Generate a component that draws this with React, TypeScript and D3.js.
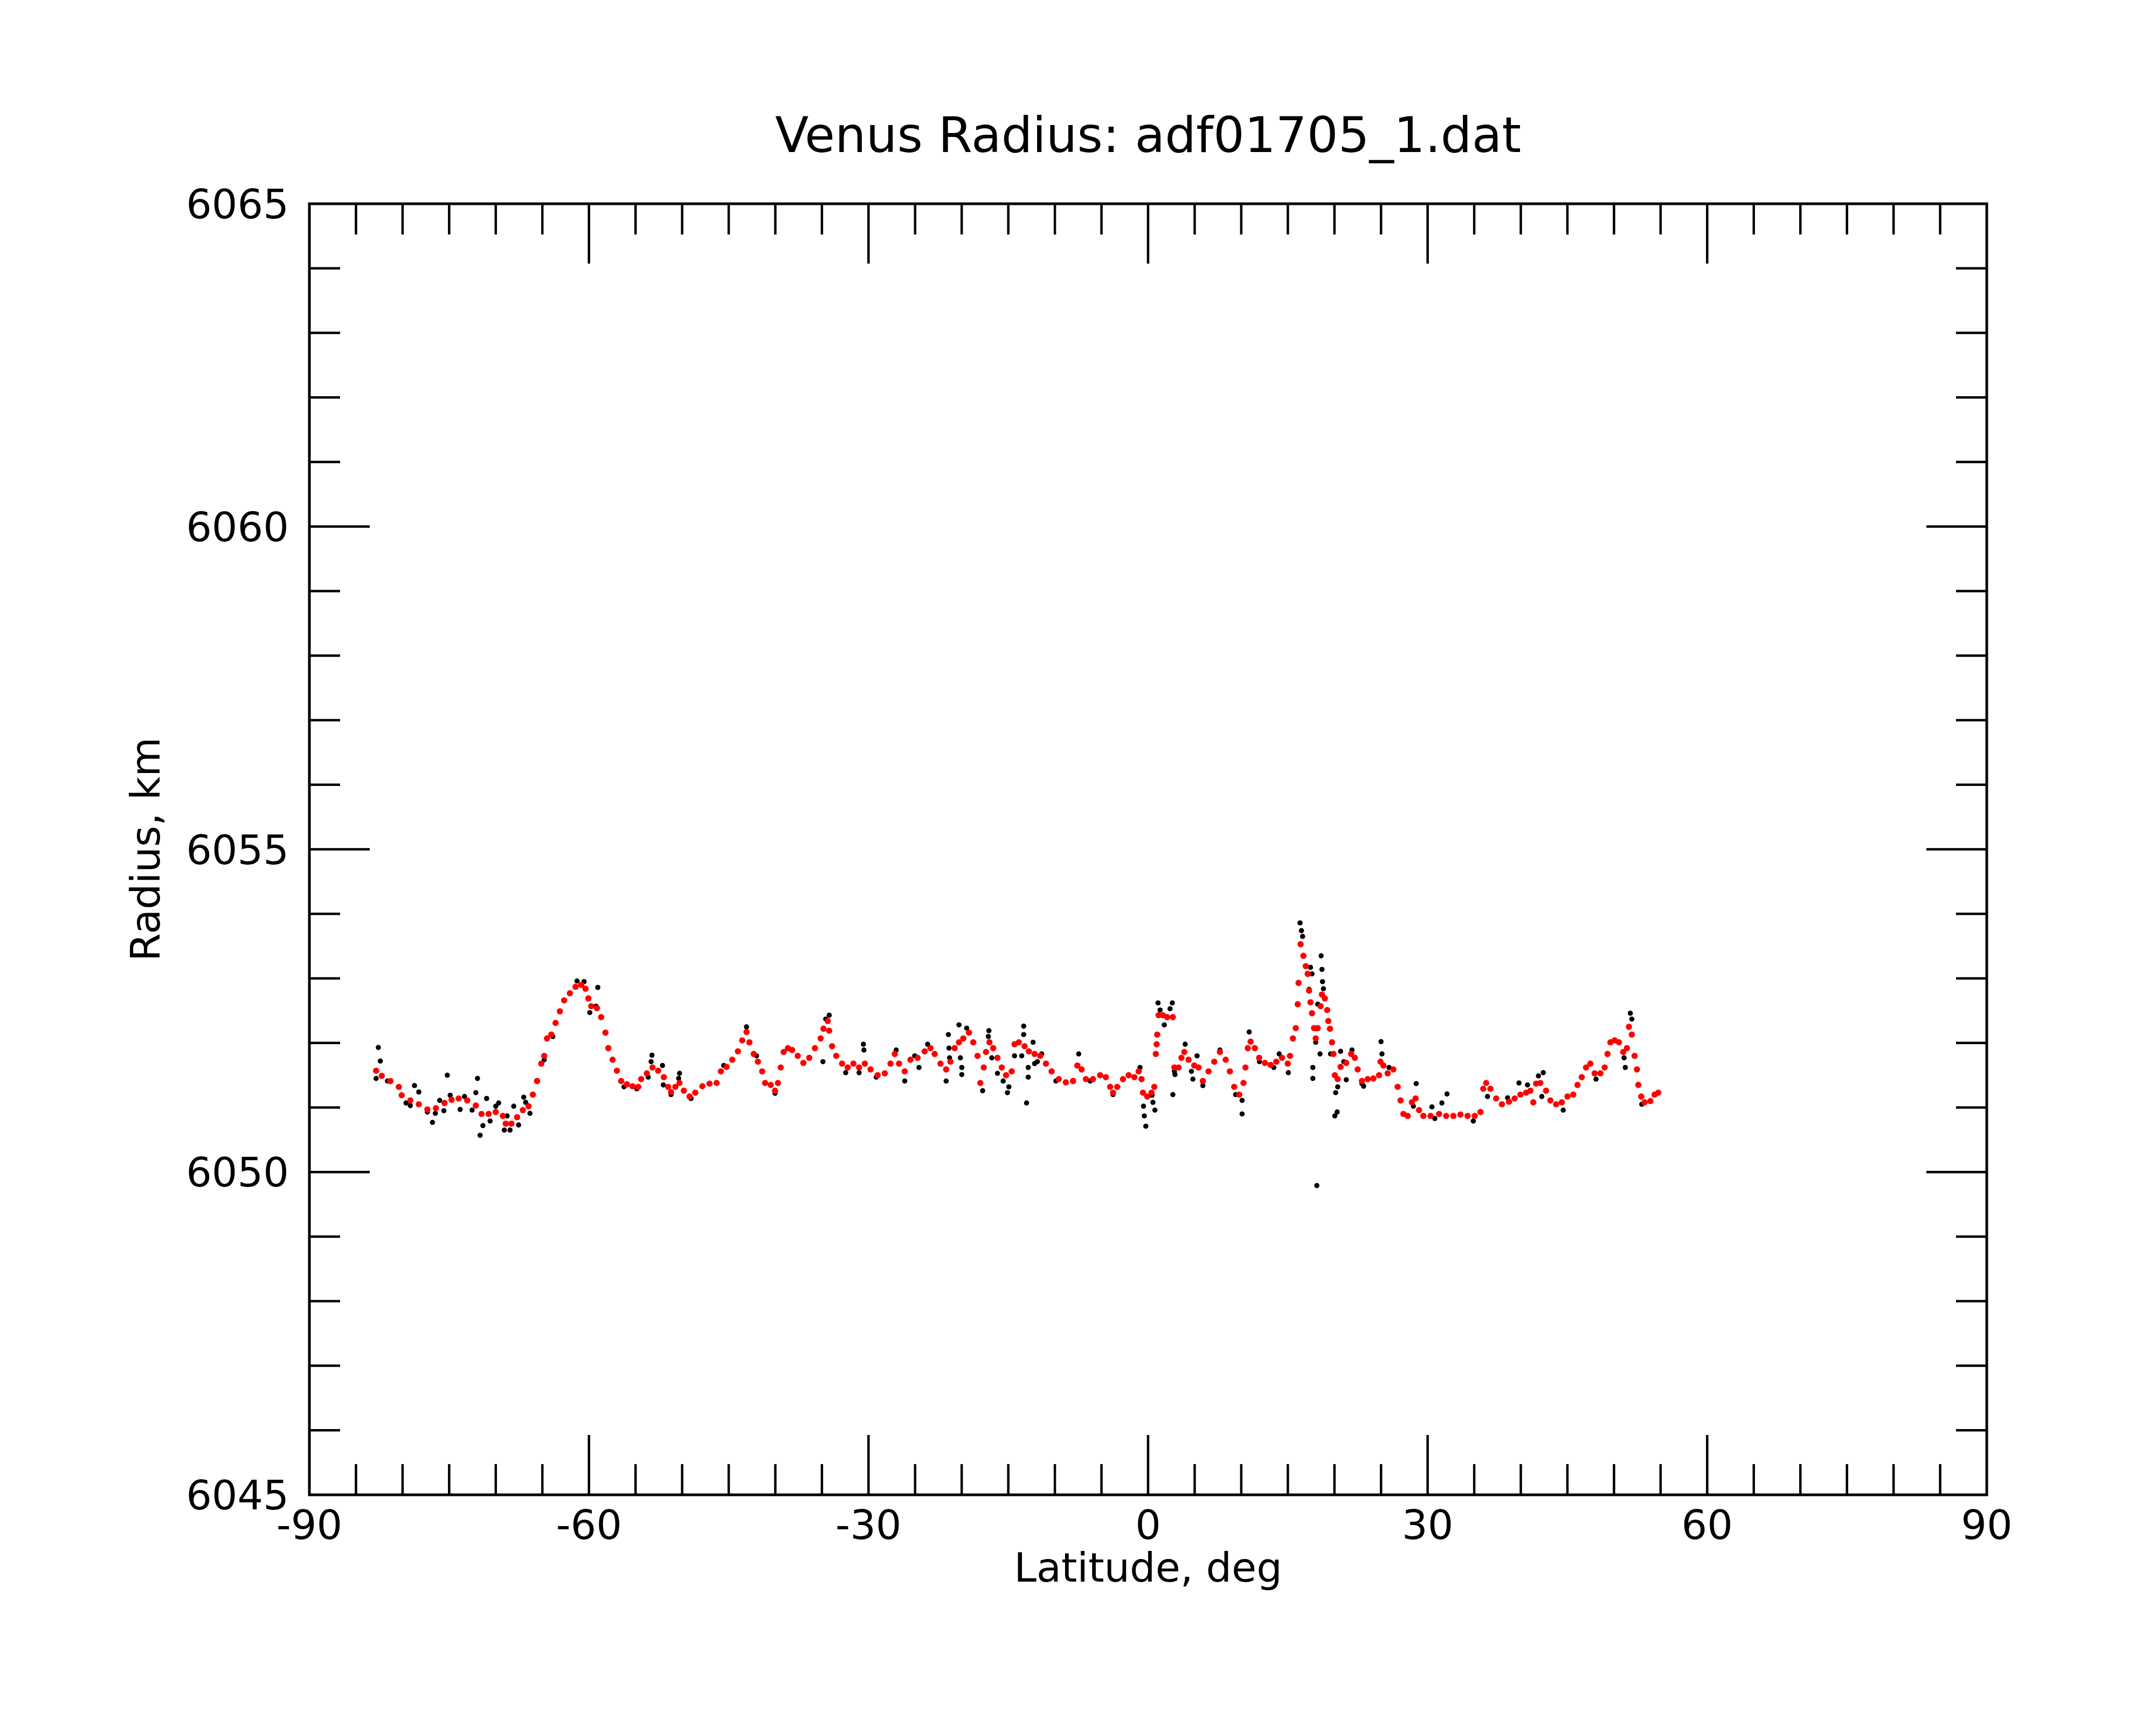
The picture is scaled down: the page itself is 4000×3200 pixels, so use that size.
import React from 'react';
import * as d3 from 'd3';

const W = 4000;
const H = 3200;
const PLOT = { left: 574, right: 3686, top: 378, bottom: 2773 };

const TITLE = 'Venus Radius: adf01705_1.dat';
const X_LABEL = 'Latitude, deg';
const Y_LABEL = 'Radius, km';

const X_DOMAIN = [-90, 90];
const Y_DOMAIN = [6045, 6065];
const X_TICK_LABELS = [-90, -60, -30, 0, 30, 60, 90];
const Y_TICK_LABELS = [6045, 6050, 6055, 6060, 6065];

// Smoothed profile (red)
const redLat = [
  -82.84, -82.23, -81.31, -80.4, -80.09, -79.17, -78.26, -77.34, -76.42, -75.5,
  -74.74, -73.98, -73.06, -72.14, -71.53, -70.76, -70.0, -69.24, -68.93, -68.32,
  -67.71, -67.09, -66.48, -66.02, -65.57, -65.11, -64.8, -64.5, -64.04, -63.58,
  -63.12, -62.66, -62.05, -61.44, -60.83, -60.37, -60.06, -59.76, -59.14, -58.69,
  -58.23, -57.92, -57.46, -57.0, -56.54, -55.93, -55.32, -54.71, -54.4, -53.79,
  -53.18, -52.57, -51.96, -51.5, -51.19, -50.73, -50.28, -49.82, -49.2, -48.59,
  -47.83, -47.06, -46.3, -45.84, -45.23, -44.62, -44.01, -43.55, -43.09, -42.78,
  -42.32, -41.87, -41.41, -41.1, -40.49, -40.03, -39.72, -39.42, -39.11, -38.65,
  -38.2, -37.59, -36.99, -36.36, -35.75, -35.14, -34.83, -34.37, -34.22, -33.91,
  -33.46, -32.84, -32.23, -31.62, -31.01, -30.39, -29.78, -29.02, -28.25, -27.64,
  -27.18, -26.72, -26.11, -25.5, -24.73, -23.97, -23.35, -22.9, -22.28, -21.67,
  -21.21, -20.75, -20.29, -19.83, -19.22, -18.76, -18.3, -18.0, -17.63, -17.39,
  -17.02, -16.62, -16.16, -15.7, -15.24, -14.63, -14.33, -13.87, -13.25, -12.79,
  -12.18, -11.57, -10.96, -10.35, -9.58, -8.82, -8.05, -7.59, -7.13, -6.67,
  -5.91, -5.14, -4.53, -4.07, -3.76, -3.31, -2.69, -2.08, -1.47, -1.01,
  -0.7, -0.55, -0.09, 0.37, 0.67, 0.83, 0.92, 0.98, 1.13, 1.59,
  2.05, 2.66, 2.82, 3.28, 3.58, 3.89, 4.35, 4.96, 5.42, 5.88,
  6.49, 7.1, 7.71, 8.33, 8.78, 9.24, 9.78, 10.24, 10.45, 10.7,
  11.0, 11.46, 11.92, 12.54, 13.15, 13.76, 14.37, 14.99, 15.23, 15.54,
  15.85, 16.06, 16.15, 16.37, 16.67, 16.92, 17.13, 17.28, 17.43, 17.59,
  17.81, 17.99, 18.2, 18.51, 18.66, 18.97, 19.22, 19.34, 19.52, 19.74,
  19.89, 20.04, 20.35, 20.66, 21.27, 21.79, 22.19, 22.49, 22.95, 23.57,
  24.18, 24.79, 24.94, 25.25, 25.71, 26.32, 26.78, 27.09, 27.4, 27.86,
  28.31, 28.71, 29.08, 29.54, 30.31, 31.23, 31.99, 32.76, 33.52, 34.29,
  35.06, 35.67, 35.97, 36.28, 36.74, 37.35, 37.97, 38.73, 39.34, 39.96,
  40.57, 41.03, 41.34, 41.64, 42.1, 42.71, 43.17, 43.79, 44.4, 45.01,
  45.63, 46.08, 46.54, 47.0, 47.46, 47.92, 48.54, 49.0, 49.3, 49.61,
  50.07, 50.53, 50.99, 51.39, 51.6, 51.91, 52.21, 52.46, 52.61, 52.92,
  53.28, 53.9, 54.36, 54.75,
];
const redRadius = [
  6051.57, 6051.49, 6051.41, 6051.32, 6051.19, 6051.11, 6051.05, 6050.97, 6050.99, 6051.07,
  6051.12, 6051.14, 6051.11, 6051.03, 6050.90, 6050.90, 6050.93, 6050.87, 6050.75, 6050.75,
  6050.85, 6050.96, 6051.02, 6051.20, 6051.41, 6051.68, 6051.80, 6052.07, 6052.13, 6052.31,
  6052.49, 6052.66, 6052.77, 6052.87, 6052.90, 6052.84, 6052.69, 6052.57, 6052.54, 6052.40,
  6052.16, 6051.92, 6051.74, 6051.57, 6051.41, 6051.36, 6051.33, 6051.32, 6051.44, 6051.53,
  6051.62, 6051.57, 6051.47, 6051.32, 6051.24, 6051.32, 6051.38, 6051.26, 6051.17, 6051.23,
  6051.33, 6051.37, 6051.38, 6051.56, 6051.63, 6051.74, 6051.87, 6052.04, 6052.17, 6052.01,
  6051.83, 6051.71, 6051.56, 6051.38, 6051.35, 6051.26, 6051.38, 6051.62, 6051.86, 6051.92,
  6051.89, 6051.80, 6051.69, 6051.77, 6051.92, 6052.07, 6052.22, 6052.34, 6052.19, 6051.95,
  6051.80, 6051.68, 6051.62, 6051.68, 6051.62, 6051.68, 6051.59, 6051.50, 6051.53, 6051.68,
  6051.83, 6051.68, 6051.56, 6051.74, 6051.77, 6051.87, 6051.92, 6051.83, 6051.68, 6051.59,
  6051.71, 6051.92, 6052.01, 6052.07, 6052.16, 6052.01, 6051.80, 6051.38, 6051.62, 6051.86,
  6052.01, 6051.92, 6051.77, 6051.62, 6051.50, 6051.56, 6051.98, 6052.01, 6051.95, 6051.87,
  6051.83, 6051.80, 6051.68, 6051.56, 6051.44, 6051.39, 6051.41, 6051.65, 6051.59, 6051.44,
  6051.44, 6051.50, 6051.47, 6051.32, 6051.23, 6051.32, 6051.44, 6051.50, 6051.47, 6051.56,
  6051.44, 6051.23, 6051.17, 6051.23, 6051.32, 6051.83, 6051.98, 6052.13, 6052.43, 6052.43,
  6052.40, 6052.40, 6051.62, 6051.62, 6051.77, 6051.86, 6051.74, 6051.65, 6051.62, 6051.41,
  6051.56, 6051.71, 6051.86, 6051.74, 6051.56, 6051.32, 6051.20, 6051.38, 6051.62, 6051.92,
  6052.02, 6051.92, 6051.77, 6051.69, 6051.66, 6051.71, 6051.77, 6051.68, 6051.80, 6052.07,
  6052.23, 6052.60, 6052.93, 6053.53, 6053.35, 6053.19, 6053.07, 6052.81, 6052.63, 6052.46,
  6052.23, 6052.07, 6052.23, 6052.57, 6052.75, 6052.69, 6052.51, 6052.34, 6052.22, 6052.01,
  6051.83, 6051.50, 6051.44, 6051.63, 6051.69, 6051.83, 6051.77, 6051.59, 6051.41, 6051.44,
  6051.45, 6051.50, 6051.71, 6051.65, 6051.53, 6051.59, 6051.32, 6051.11, 6050.90, 6050.87,
  6051.08, 6051.14, 6050.96, 6050.87, 6050.87, 6050.90, 6050.87, 6050.87, 6050.89, 6050.87,
  6050.87, 6050.93, 6051.29, 6051.38, 6051.29, 6051.14, 6051.05, 6051.09, 6051.14, 6051.20,
  6051.23, 6051.26, 6051.08, 6051.37, 6051.38, 6051.26, 6051.11, 6051.05, 6051.08, 6051.17,
  6051.20, 6051.35, 6051.47, 6051.62, 6051.68, 6051.53, 6051.53, 6051.62, 6051.83, 6052.01,
  6052.04, 6052.01, 6051.86, 6051.92, 6052.25, 6052.13, 6051.80, 6051.59, 6051.35, 6051.17,
  6051.08, 6051.10, 6051.20, 6051.23,
];

// Raw measurements (black)
const blackLat = [
  -82.6, -82.39, -82.84, -81.62, -78.72, -78.26, -79.63, -79.17, -77.34, -76.79,
  -76.48, -76.02, -75.57, -75.2, -74.89, -73.82, -73.36, -72.54, -72.14, -71.96,
  -71.68, -71.38, -70.98, -70.61, -70.0, -69.69, -69.08, -68.78, -68.47, -68.07,
  -67.55, -67.0, -66.79, -66.33, -64.8, -63.88, -61.28, -60.52, -59.05, -59.91,
  -59.24, -56.24, -54.86, -53.64, -53.24, -53.33, -52.11, -52.02, -51.19, -50.28,
  -50.37, -49.05, -45.53, -43.09, -42.02, -40.03,
  -34.89, -34.59, -34.22, -30.55, -30.49, -32.45, -31.01, -29.17, -27.03, -26.11,
  -25.04, -24.58, -23.66, -21.67, -21.43, -21.36, -21.3, -20.29, -20.14, -19.99,
  -19.99, -19.47, -17.75, -17.08, -17.14, -16.77, -16.16, -15.55, -15.09, -14.94,
  -14.33, -13.35, -13.35, -13.25, -13.56, -12.86, -12.86, -13.04, -12.34, -12.18,
  -11.88, -11.42, -9.89, -7.44, -6.21, -3.76, -0.86, -0.49, -0.4, -0.24,
  0.43, 0.52, 0.73, 1.07, 1.29, 1.74, 2.36, 2.6, 2.66, 2.82,
  3.98, 4.65, 4.81, 5.26, 7.71, 9.4, 2.89, 5.88, 11.95, 13.49,
  18.21, 21.0, 23.13,
  10.09, 10.09, 10.85, 14.07, 15.05, 16.31, 16.46, 16.58, 17.43, 17.59,
  17.28, 18.05, 17.99, 17.68, 17.68, 18.45, 18.57, 18.66, 18.72, 18.82,
  18.11, 19.58, 20.04, 20.29, 20.13, 20.35, 20.66, 21.27, 21.88, 22.95,
  25.0, 25.1, 25.86, 28.77, 28.47, 30.46, 30.77, 31.53, 32.08, 34.9,
  36.43, 38.58, 39.8, 40.72, 42.41, 41.89, 42.25, 44.55, 48.07, 51.08,
  51.21, 51.75, 51.91, 52.98,
];
const blackRadius = [
  6051.93, 6051.72, 6051.45, 6051.41, 6051.34, 6051.24, 6051.07, 6051.03, 6050.93, 6050.77,
  6050.91, 6051.11, 6050.95, 6051.50, 6051.19, 6050.97, 6051.17, 6050.96, 6051.23, 6051.45,
  6050.57, 6050.72, 6051.14, 6050.79, 6051.02, 6051.07, 6050.65, 6050.87, 6050.65, 6051.02,
  6050.73, 6051.16, 6051.08, 6050.91, 6051.74, 6052.10, 6052.96, 6052.95, 6052.86, 6052.47,
  6052.57, 6051.32, 6051.29, 6051.47, 6051.81, 6051.71, 6051.65, 6051.35, 6051.20, 6051.53,
  6051.45, 6051.14, 6051.65, 6052.25, 6051.80, 6051.22,
  6051.71, 6052.37, 6052.43, 6051.98, 6051.89, 6051.54, 6051.54, 6051.47, 6051.89, 6051.41,
  6051.80, 6051.62, 6051.98, 6051.41, 6052.13, 6051.92, 6051.77, 6052.28, 6051.77, 6051.62,
  6051.51, 6052.23, 6051.26, 6052.19, 6052.10, 6051.77, 6051.53, 6051.41, 6051.23, 6051.32,
  6051.80, 6052.26, 6052.13, 6051.95, 6051.80, 6051.62, 6051.47, 6051.07, 6052.01, 6051.68,
  6051.71, 6051.83, 6051.41, 6051.83, 6051.41, 6051.20, 6051.62, 6051.02, 6050.87, 6050.71,
  6051.19, 6051.08, 6050.96, 6052.62, 6052.51, 6052.28, 6052.53, 6052.62, 6051.20, 6051.56,
  6051.98, 6051.56, 6051.44, 6051.80, 6051.89, 6051.20, 6051.51, 6051.34, 6051.71, 6051.62,
  6052.60, 6051.71, 6051.33,
  6051.11, 6050.90, 6052.17, 6051.83, 6051.54, 6053.86, 6053.74, 6053.65, 6053.17, 6053.07,
  6052.83, 6052.22, 6052.01, 6051.62, 6051.45, 6051.83, 6053.35, 6053.14, 6052.95, 6052.84,
  6049.79, 6051.83, 6050.87, 6050.93, 6051.23, 6051.32, 6051.87, 6051.43, 6051.89, 6051.37,
  6052.02, 6051.83, 6051.62, 6051.37, 6051.02, 6051.01, 6050.83, 6051.07, 6051.21, 6050.79,
  6051.17, 6051.15, 6051.38, 6051.35, 6051.54, 6051.49, 6051.17, 6050.96, 6051.44, 6051.77,
  6051.62, 6052.46, 6052.37, 6051.05,
];

const FONT = 'DejaVu Sans';
const TICK_FONT = 75;
const TITLE_FONT = 91;
const AXIS_W = 5;
const MINOR = 57;
const MAJOR = 111;

export default function App() {
  const x = d3.scaleLinear().domain(X_DOMAIN).range([PLOT.left, PLOT.right]);
  const y = d3.scaleLinear().domain(Y_DOMAIN).range([PLOT.bottom, PLOT.top]);

  const xTicks = d3.range(-85, 90, 5);
  const yTicks = d3.range(6046, 6065, 1);

  const redPts = redLat.map((d, i) => [d, redRadius[i]]);
  const blackPts = blackLat.map((d, i) => [d, blackRadius[i]]);

  return (
    <svg
      width={W}
      height={H}
      viewBox={`0 0 ${W} ${H}`}
      style={{ position: 'absolute', left: 0, top: 0, background: '#fff' }}
      fontFamily={FONT}
    >
      <rect x={0} y={0} width={W} height={H} fill="#fff" />
      <text
        x={(PLOT.left + PLOT.right) / 2}
        y={282}
        fontSize={TITLE_FONT}
        textAnchor="middle"
        fill="#000"
      >
        {TITLE}
      </text>

      {/* data */}
      <g>
        {blackPts.map((p, i) => (
          <circle key={'b' + i} cx={x(p[0])} cy={y(p[1])} r={4.8} fill="#000" />
        ))}
      </g>
      <g>
        {redPts.map((p, i) => (
          <circle key={'r' + i} cx={x(p[0])} cy={y(p[1])} r={5.8} fill="#ff0000" />
        ))}
      </g>

      {/* ticks */}
      <g stroke="#000" strokeWidth={4.5}>
        {xTicks.map((t) => {
          const len = t % 30 === 0 ? MAJOR : MINOR;
          const xx = x(t);
          return (
            <g key={'xt' + t}>
              <line x1={xx} x2={xx} y1={PLOT.bottom} y2={PLOT.bottom - len} />
              <line x1={xx} x2={xx} y1={PLOT.top} y2={PLOT.top + len} />
            </g>
          );
        })}
        {yTicks.map((t) => {
          const len = t % 5 === 0 ? MAJOR + 1 : MINOR;
          const yy = y(t);
          return (
            <g key={'yt' + t}>
              <line x1={PLOT.left} x2={PLOT.left + len} y1={yy} y2={yy} />
              <line x1={PLOT.right} x2={PLOT.right - len} y1={yy} y2={yy} />
            </g>
          );
        })}
      </g>
      <rect
        x={PLOT.left}
        y={PLOT.top}
        width={PLOT.right - PLOT.left}
        height={PLOT.bottom - PLOT.top}
        fill="none"
        stroke="#000"
        strokeWidth={AXIS_W}
      />

      {/* tick labels */}
      {X_TICK_LABELS.map((t) => (
        <text
          key={'xl' + t}
          x={x(t)}
          y={PLOT.bottom + 82}
          fontSize={TICK_FONT}
          textAnchor="middle"
          fill="#000"
        >
          {String(t)}
        </text>
      ))}
      {Y_TICK_LABELS.map((t) => (
        <text
          key={'yl' + t}
          x={PLOT.left - 38}
          y={y(t) + 27}
          fontSize={TICK_FONT}
          textAnchor="end"
          fill="#000"
        >
          {String(t)}
        </text>
      ))}

      {/* axis titles */}
      <text
        x={(PLOT.left + PLOT.right) / 2}
        y={2934}
        fontSize={TICK_FONT}
        textAnchor="middle"
        fill="#000"
      >
        {X_LABEL}
      </text>
      <text
        transform={`translate(296, ${(PLOT.top + PLOT.bottom) / 2}) rotate(-90)`}
        fontSize={TICK_FONT}
        textAnchor="middle"
        fill="#000"
      >
        {Y_LABEL}
      </text>
    </svg>
  );
}
